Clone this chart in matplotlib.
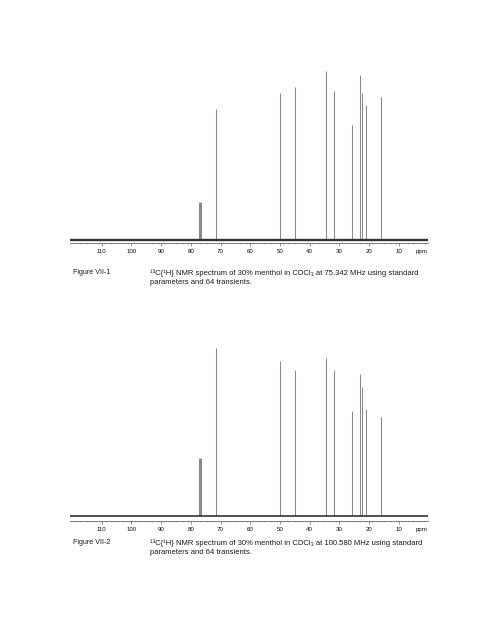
import matplotlib.pyplot as plt
import numpy as np

# chemical shifts (ppm) of menthol peaks + CDCl3 triplet
shifts = [77.36, 77.04, 76.72, 71.5, 50.1, 45.0, 34.5, 31.6, 25.8, 23.1, 22.2, 21.0, 16.1]
# peak heights (pixels above baseline)
heights_75 = [38, 38, 38, 131, 147, 153, 169, 149, 115, 165, 147, 135, 143]
heights_100 = [58, 58, 58, 168, 155, 146, 158, 146, 105, 142, 129, 107, 99]

tick_vals = [110, 100, 90, 80, 70, 60, 50, 40, 30, 20, 10]

captions = [
    ("Figure VII-1",
     "\u00b9\u00b3C{\u00b9H} NMR spectrum of 30% menthol in CDCl\u2083 at 75.342 MHz using standard",
     "parameters and 64 transients."),
    ("Figure VII-2",
     "\u00b9\u00b3C{\u00b9H} NMR spectrum of 30% menthol in CDCl\u2083 at 100.580 MHz using standard",
     "parameters and 64 transients."),
]

W, H = 495, 643
fam = ['Liberation Sans', 'DejaVu Sans']

fig = plt.figure(figsize=(W / 100, H / 100), dpi=100)
fig.patch.set_facecolor('white')


def spectrum(top_px, spine_px, gap, heights, base_lw):
    ax = fig.add_axes([70 / W, 1 - spine_px / H, 358 / W, (spine_px - top_px) / H])
    ax.vlines(shifts, 0, heights, color='#8a8a8a', lw=0.75)
    ax.axhline(0, color='#333333', lw=base_lw)
    ax.set_xlim(120.7, 0.1)
    ax.set_ylim(-gap, spine_px - top_px - gap)
    for s in ['top', 'left', 'right']:
        ax.spines[s].set_visible(False)
    ax.spines['bottom'].set_color('#666666')
    ax.spines['bottom'].set_linewidth(0.6)
    ax.set_yticks([])
    ax.set_xticks(tick_vals)
    ax.set_xticks(np.arange(1, 121, 2), minor=True)
    ax.tick_params(axis='x', which='major', length=2, width=0.5, color='#666666',
                   pad=2, labelsize=4.4, labelcolor='#111111')
    ax.tick_params(axis='x', which='minor', length=1, width=0.4, color='#888888')
    for lab in ax.get_xticklabels():
        lab.set_family(fam)
    # 'ppm' sits in line with the tick labels
    ax.text(2.3, -gap - 6, 'ppm', ha='center', va='top',
            fontsize=4.4, color='#111111', family=fam)
    return ax


spectrum(66, 243, 3, heights_75, 1.7)
spectrum(340, 521, 5, heights_100, 1.2)

for (lab, l1, l2), y in zip(captions, [273, 543]):
    fig.text(73 / W, 1 - y / H, lab, fontsize=5.1, family=fam, color='#1a1a1a', va='center')
    fig.text(150 / W, 1 - y / H, l1, fontsize=5.5, family=fam, color='#1a1a1a', va='center')
    fig.text(150 / W, 1 - (y + 9.5) / H, l2, fontsize=5.5, family=fam, color='#1a1a1a', va='center')

fig.savefig('out.png', dpi=100)
